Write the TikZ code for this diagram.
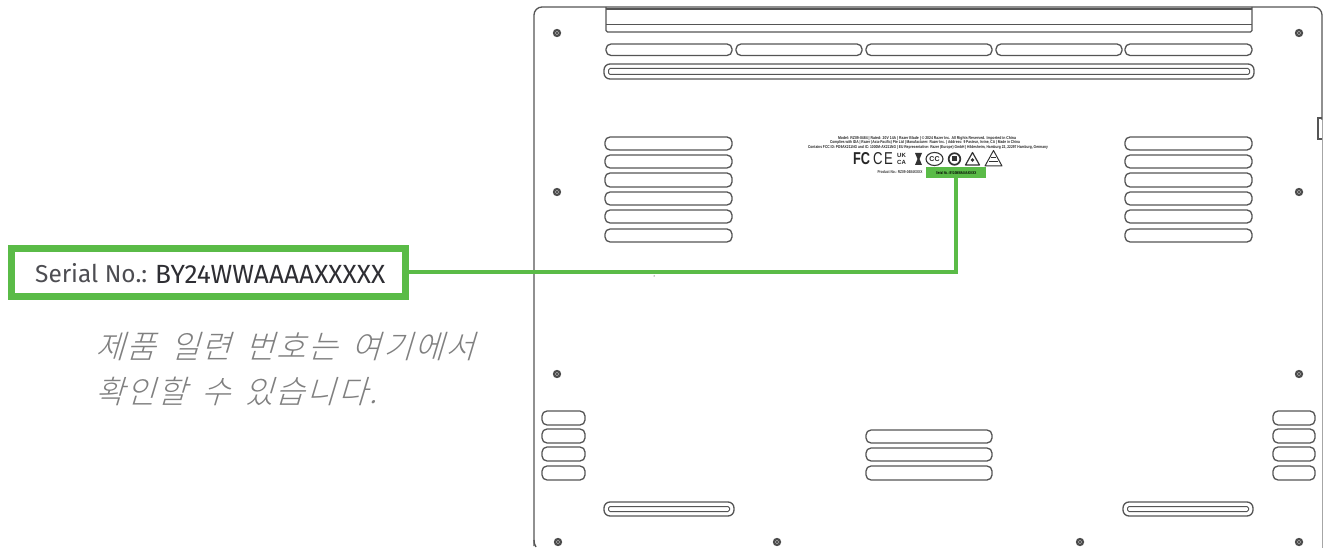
\documentclass[tikz,border=0pt]{standalone}
\usepackage{fontspec}
\setmainfont{Fira Sans}
\newfontfamily\cjk[FakeSlant=0.3,LetterSpace=6,WordSpace=1.6]{Noto Sans CJK KR Light}
\newfontfamily\labelsans{Liberation Sans}
\definecolor{razergreen}{HTML}{5ABB47}
\definecolor{outline}{HTML}{555555}
\definecolor{darktext}{HTML}{2E2E33}
\definecolor{graytext}{HTML}{808080}
\newcommand{\slot}[5][2.2pt]{\draw[ventline,rounded corners=#1] (#2,#3) rectangle (#4,#5);}
\newcommand{\dslot}[4]{%
  \draw[ventline,rounded corners=6pt] (#1,#2) rectangle (#3,#4);
  \draw[ventline,line width=1pt,rounded corners=1.5pt] (#1+4.5,#2+4.5) rectangle (#3-4.5,#4-4.5);}
\newcommand{\screw}[2]{\fill[outline!90!black] (#1,#2) circle (4.2pt); \draw[white!45!gray,line width=.4pt] (#1,#2) circle (1.8pt);}
\newcommand{\finetext}[4]{\node[anchor=center,inner sep=0pt,text=black!85] at (#1,#2) {\resizebox{#3pt}{3pt}{\labelsans\bfseries #4}};}
\tikzset{
  ventline/.style={draw=outline,line width=1.3pt},
  bodyline/.style={draw=outline,line width=1.3pt},
  greenbox/.style={draw=razergreen,line width=7pt,fill=white,inner sep=0pt},
  greenline/.style={draw=razergreen,line width=4.2pt},
  greenpatch/.style={fill=razergreen,inner sep=0pt},
  logo/.style={inner sep=0pt,text=black!85,font=\labelsans\bfseries}
}
\begin{document}
\begin{tikzpicture}[x=1pt,y=-1pt]
\useasboundingbox (0,0) rectangle (1323,548);
\fill[white] (0,0) rectangle (1323,548);

% body
\draw[bodyline,rounded corners=8pt] (534,546) -- (534,7) -- (1322,7) -- (1322,120);
\draw[bodyline,line width=.5pt,draw=gray!70] (1322,120) -- (1322,548);
\draw[bodyline] (534,540) to[bend right=15] (536,547);
\draw[bodyline] (1322,118) -- (1318,118) -- (1318,139) -- (1322,139);

% top strip
\draw[bodyline,line width=1.6pt] (606,9) -- (1252,9);
\draw[bodyline] (606,24.5) -- (1252,24.5);
\draw[bodyline,rounded corners=1.5pt] (606,7) -- (606,32) -- (1252,32) -- (1252,7);

% top slots
\foreach \a/\b in {606/732,736/862,866/992,996/1122,1125/1252}{\slot[5pt]{\a}{44}{\b}{55.5}}
\dslot{604}{64}{1254}{79}

% side vents
\foreach \a/\b in {137/150,155/168,173/187,192/205,210/223,229/242}{
  \slot[5pt]{605}{\a}{732}{\b}
  \slot[5pt]{1125}{\a}{1252}{\b}
}
% lower centre vents
\foreach \a/\b in {430/443,448/461,466/480}{\slot[5pt]{866}{\a}{992}{\b}}
% corner vents
\foreach \a/\b in {411/425,429/443,447/461,466/480}{
  \slot[5pt]{542}{\a}{585}{\b}
  \slot[5pt]{1273}{\a}{1315}{\b}
}
% bottom slots
\dslot{604}{502}{734}{516}
\dslot{1123}{502}{1253}{516}

% screws
\foreach \p/\q in {557/33,1299/33,557/192,1299/192,557/374,1299/374,558/542,777/542,1080/542,1299/542}{\screw{\p}{\q}}
\fill[black] (654,276) circle (.5pt);

% regulatory label
\finetext{927}{138}{178}{Model: RZ09-0484 | Rated: 20V 14A | Razer Blade | © 2024 Razer Inc. All Rights Reserved. Imported in China}
\finetext{925}{142.5}{190}{Complies with IDA | Razer (Asia-Pacific) Pte Ltd | Manufacturer: Razer Inc. | Address: 9 Pasteur, Irvine, CA | Made in China}
\finetext{928}{147}{240}{Contains FCC ID: PD9AX211NG and IC: 1000M-AX211NG | EU Representative: Razer (Europe) GmbH | Hildesheim, Hamburg 22, 22297 Hamburg, Germany}
\node[logo,font=\labelsans\bfseries\fontsize{15}{15}\selectfont] at (861.5,159) {\resizebox{17pt}{12pt}{FC}};
\node[logo,font=\labelsans\fontsize{15}{15}\selectfont] at (883,159) {\resizebox{20pt}{12pt}{C\kern2pt E}};
\node[logo,font=\labelsans\bfseries\fontsize{6}{6.5}\selectfont] at (901.5,155.5) {UK};
\node[logo,font=\labelsans\bfseries\fontsize{6}{6.5}\selectfont] at (901.5,162.5) {CA};
\fill[black!80] (915,153) -- (922,153) -- (919.5,159) -- (922,165) -- (915,165) -- (917.5,159) -- cycle;
\draw[black!80,line width=1.1pt] (934.5,159) ellipse (8.5pt and 6.5pt);
\node[logo,font=\labelsans\bfseries\fontsize{7}{7}\selectfont] at (934.5,159) {CC};
\draw[black!80,line width=1.7pt] (954.5,159) circle (5.8pt);
\fill[black!80] (952,156.5) rectangle (957,161.5);
\draw[black!80,line width=1.2pt,line join=round] (972.5,152.5) -- (979.5,165) -- (965.5,165) -- cycle;
\fill[black!80] (972.5,160) circle (1.8pt);
\draw[black!80,line width=1pt,line join=round] (993.5,150.5) -- (1002,166) -- (985,166) -- cycle;
\draw[black!80,line width=.7pt] (989,161) -- (998,161) (991,157) -- (996,157);
\node[inner sep=0pt,text=black!80] at (900,172) {\resizebox{45pt}{3pt}{\labelsans\bfseries Product No.: RZ09-0484XXXX}};

% green call-out
\node[greenpatch,minimum width=60pt,minimum height=11pt,anchor=north west] (seriallabel) at (926,167) {\resizebox{40pt}{3pt}{\labelsans\bfseries Serial No.: BY24WWAAAAXXXXX}};
\node[greenbox,minimum width=394pt,minimum height=48pt,anchor=center] (serialbox) at (208.5,272.3) {};
\draw[greenline] (serialbox.east) -- (serialbox.east -| seriallabel.south) -- (seriallabel.south);

% texts
\node[anchor=base west,inner sep=0pt,text=darktext!85] (serialname) at (35,282.5) {\resizebox{112pt}{!}{Serial No.:}};
\node[anchor=base west,inner sep=0pt,text=darktext] (serialvalue) at (155,283.5) {\resizebox{230pt}{!}{BY24WWAAAAXXXXX}};
\node[anchor=base west,inner sep=0pt,text=graytext] (ko1) at (95,358) {\resizebox{380pt}{!}{\cjk 제품 일련 번호는 여기에서}};
\node[anchor=base west,inner sep=0pt,text=graytext] (ko2) at (95,403) {\resizebox{282pt}{!}{\cjk 확인할 수 있습니다.}};
\end{tikzpicture}
\end{document}
